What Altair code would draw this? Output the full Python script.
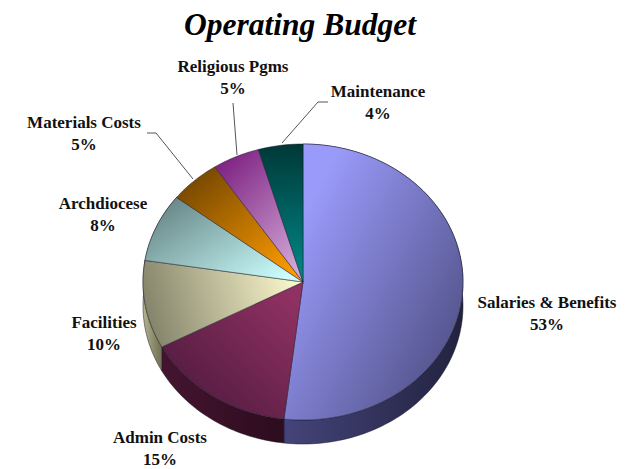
import altair as alt
import numpy as np
import pandas as pd

title_text = "Operating Budget"
categories = ["Salaries & Benefits", "Admin Costs", "Facilities", "Archdiocese",
              "Materials Costs", "Religious Pgms", "Maintenance"]
pct_labels = ["53%", "15%", "10%", "8%", "5%", "5%", "4%"]
# slice sizes (percent of the pie)
values = [51.9, 15.3, 10.3, 8.0, 5.2, 4.8, 4.5]

# gradients: (light end, dark end, x1, y1, x2, y2)
top_styles = [
    ("#9a9afa", "#4f4f85", 0.15, 0.2, 0.95, 0.85),
    ("#8f3162", "#4e1a3d", 0.9, 0.1, 0.1, 0.9),
    ("#fffbcf", "#83836a", 1.0, 0.35, 0.0, 0.5),
    ("#ccffff", "#688787", 0.95, 0.9, 0.05, 0.15),
    ("#ff9c00", "#7a4a00", 0.9, 0.95, 0.15, 0.1),
    ("#d2a8d8", "#7c1f80", 0.8, 1.0, 0.15, 0.0),
    ("#008a8a", "#003838", 0.5, 1.0, 0.5, 0.0),
]
side_styles = [
    ("#44447a", "#22223f"),
    ("#451530", "#2c0c1e"),
    ("#b4b48c", "#6e6e52"),
    ("#688787", "#688787"),
    ("#7a4a00", "#7a4a00"),
    ("#7c1f80", "#7c1f80"),
    ("#003838", "#003838"),
]

# layout (page pixels minus the 8px margin are the plot coordinates)
W, H = 615, 460
CX, CY, RX, RY, DEPTH = 295, 274, 160, 138, 24
x_scale = alt.Scale(domain=[-CX / RX, (W - CX) / RX], nice=False, zero=False)
y_scale = alt.Scale(domain=[(CY - H) / RY, CY / RY], nice=False, zero=False)
xe = lambda: alt.X("u:Q", scale=x_scale, axis=None)
ye = lambda: alt.Y("v:Q", scale=y_scale, axis=None)


def gradient(c1, c2, x1, y1, x2, y2):
    return alt.LinearGradient(
        gradient="linear", x1=x1, y1=y1, x2=x2, y2=y2,
        stops=[alt.GradientStop(offset=0, color=c1), alt.GradientStop(offset=1, color=c2)],
    )


def arc_points(a0, a1):
    n = max(2, int(abs(a1 - a0) / 1.5))
    th = np.radians(np.linspace(a0, a1, n))
    return np.sin(th), np.cos(th)


def polygon(us, vs, fill):
    df = pd.DataFrame({"u": us, "v": vs, "i": np.arange(len(us))})
    return alt.Chart(df).mark_line(
        interpolate="linear-closed", fill=fill, stroke="#1a1a2a", strokeWidth=0.5,
        clip=False,
    ).encode(x=xe(), y=ye(), order=alt.Order("i:Q"))


edges = np.concatenate([[0], np.cumsum(values)]) / sum(values) * 360
layers = []
d = DEPTH / RY
for k in range(len(values)):
    su, sv = arc_points(edges[k], edges[k + 1])
    if np.cos(np.radians(edges[k])) < 0.3 or np.cos(np.radians(edges[k+1])) < 0.3:
        c1, c2 = side_styles[k]
        us = np.concatenate([su, su[::-1]])
        vs = np.concatenate([sv, sv[::-1] - d])
        layers.append(polygon(us, vs, gradient(c1, c2, 0, 0, 1, 0)))
for k in range(len(values)):
    su, sv = arc_points(edges[k], edges[k + 1])
    us = np.concatenate([[0], su])
    vs = np.concatenate([[0], sv])
    c1, c2, x1, y1, x2, y2 = top_styles[k]
    layers.append(polygon(us, vs, gradient(c1, c2, x1, y1, x2, y2)))

# leader lines, plot pixels
leaders = [
    (225, 95, 229, 147),
    (320, 94, 310, 94), (310, 94, 274, 135),
    (139, 125, 148, 125), (148, 125, 185, 171),
]
leader_df = pd.DataFrame(leaders, columns=["x", "y", "x2", "y2"])
layers.append(
    alt.Chart(leader_df).mark_rule(color="#555555", strokeWidth=1).encode(
        x=alt.X("x:Q", scale=None), y=alt.Y("y:Q", scale=None),
        x2="x2:Q", y2="y2:Q",
    )
)

label_x = [539, 152, 96, 95, 76, 225, 370]
label_y = [295, 430, 315, 196, 115, 59, 84]
labels = pd.DataFrame({"name": categories, "pct": pct_labels, "x": label_x, "y": label_y})
labels["y2"] = labels["y"] + 22
font = dict(font="Liberation Serif", fontWeight="bold", fontSize=17, color="#111111",
            align="center", baseline="middle")
layers.append(alt.Chart(labels).mark_text(**font).encode(
    x=alt.X("x:Q", scale=None), y=alt.Y("y:Q", scale=None), text="name:N"))
layers.append(alt.Chart(labels).mark_text(**font).encode(
    x=alt.X("x:Q", scale=None), y=alt.Y("y2:Q", scale=None), text="pct:N"))

layers.append(alt.Chart(pd.DataFrame({"t": [title_text]})).mark_text(
    font="Liberation Serif", fontWeight="bold", fontStyle="italic", fontSize=31.5,
    color="#000000", align="center", baseline="middle",
).encode(x=alt.value(292), y=alt.value(18), text="t:N"))

chart = alt.layer(*layers).resolve_scale(x="independent", y="independent").properties(
    width=W, height=H, padding=0, autosize="none", background="white",
).configure_view(stroke=None)

chart.save("out.html", embed_options={"renderer": "svg", "actions": False})
